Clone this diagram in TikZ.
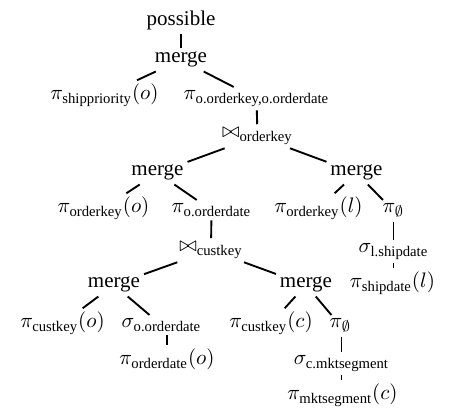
\documentclass[tikz,border=0pt]{standalone}
\usepackage{amsmath}
\usepackage{fontspec}
\setmainfont{Liberation Serif}
\begin{document}
\begin{tikzpicture}[x=0.47619pt,y=-0.47619pt,
  every node/.style={font=\normalsize, anchor=base, inner sep=1.7pt},
  edge/.style={line width=0.9pt}]
\useasboundingbox (0,0) rectangle (459,417);
% nodes of the plan tree
\node (top) at (181,26) {possible};
\node (m0) at (181,63) {merge};
\node (p1) at (104.5,100) {$\pi_{\text{shippriority}}(o)$};
\node (p2) at (256.5,100) {$\pi_{\text{o.orderkey,o.orderdate}}$};
\node (j1) at (257.5,138) {$\bowtie_{\text{orderkey}}$};
\node (m1) at (157.5,176) {merge};
\node (m2) at (356.5,176) {merge};
\node (p3) at (103.5,213) {$\pi_{\text{orderkey}}(o)$};
\node (p4) at (211.5,213) {$\pi_{\text{o.orderdate}}$};
\node (p5) at (318.5,213) {$\pi_{\text{orderkey}}(l)$};
\node (p6) at (393.5,213) {$\pi_{\emptyset}$};
\node (j2) at (211,252) {$\bowtie_{\text{custkey}}$};
\node (s1) at (393.5,253) {$\sigma_{\text{l.shipdate}}$};
\node (m3) at (114,288) {merge};
\node (m4) at (306,288) {merge};
\node (p7) at (392.5,288) {$\pi_{\text{shipdate}}(l)$};
\node (p8) at (62.5,328) {$\pi_{\text{custkey}}(o)$};
\node (s2) at (161.5,328) {$\sigma_{\text{o.orderdate}}$};
\node (p9) at (271,328) {$\pi_{\text{custkey}}(c)$};
\node (p10) at (340.5,328) {$\pi_{\emptyset}$};
\node (p11) at (167,365) {$\pi_{\text{orderdate}}(o)$};
\node (s3) at (341.5,365) {$\sigma_{\text{c.mktsegment}}$};
\node (p12) at (342.5,400) {$\pi_{\text{mktsegment}}(c)$};
% edges
\draw[edge] (top) -- (m0);
\draw[edge] (m0) -- (p1);
\draw[edge] (m0) -- (p2);
\draw[edge] (p2) -- (j1);
\draw[edge] (j1) -- (m1);
\draw[edge] (j1) -- (m2);
\draw[edge] (m1) -- (p3);
\draw[edge] (m1) -- (p4);
\draw[edge] (m2) -- (p5);
\draw[edge] (m2) -- (p6);
\draw[edge] (p4) -- (j2);
\draw[edge] (p6.south -| s1) -- (s1.north);
\draw[edge] (s1) -- (p7.north -| s1);
\draw[edge] (j2) -- (m3);
\draw[edge] (j2) -- (m4);
\draw[edge] (m3) -- (p8);
\draw[edge] (m3) -- (s2);
\draw[edge] (m4) -- (p9);
\draw[edge] (m4) -- (p10);
\draw[edge] (s2.south -| p11) -- (p11.north);
\draw[edge] (p10.south -| s3) -- (s3.north);
\draw[edge] (s3) -- (p12.north -| s3);
\end{tikzpicture}
\end{document}
